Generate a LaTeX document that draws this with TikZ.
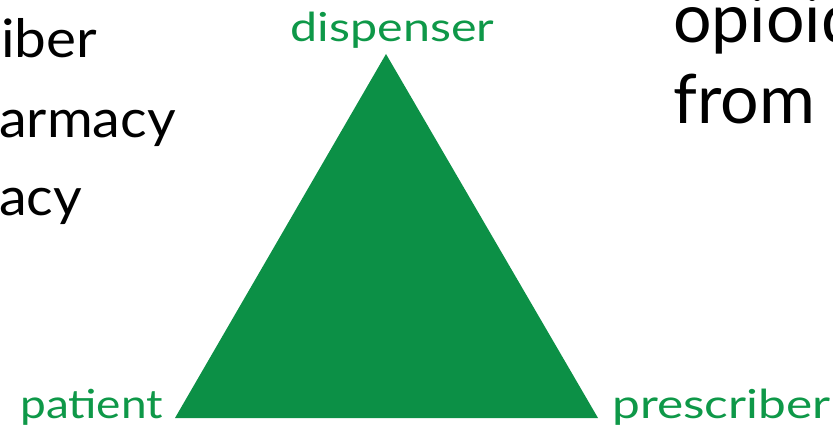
\documentclass[tikz,border=0pt]{standalone}
\usepackage{fontspec}
\usepackage{graphicx}
\setmainfont{Lato}
\definecolor{trigreen}{RGB}{12,144,70}
\definecolor{labgreen}{RGB}{14,152,72}
\begin{document}
\begin{tikzpicture}[x=1pt,y=-1pt,
  lab/.style={text=labgreen,inner sep=0pt,font=\fontsize{40}{46}\selectfont},
  blk/.style={text=black,inner sep=0pt,font=\fontsize{53}{60}\selectfont},
  bigblk/.style={text=black,inner sep=0pt,font=\fontsize{68}{76}\selectfont}]
\useasboundingbox (0,0) rectangle (833,436);
\clip (0,0) rectangle (833,436);
\coordinate (A) at (386,54);
\coordinate (B) at (175,418);
\coordinate (C) at (598,418);
\fill[trigreen] (A) -- (B) -- (C) -- cycle;
\node[lab,anchor=base] (disp) at (392.5,42) {\scalebox{1.21}[1]{dispenser}};
\node[lab,anchor=base west] (pat) at (20,418) {\scalebox{1.15}[1]{patient}};
\node[lab,anchor=base west] (pres) at (612,418) {\scalebox{1.24}[1]{prescriber}};
\node[blk,anchor=base west] (t1) at (1,58) {\scalebox{1.07}[1]{iber}};
\node[blk,anchor=base west] (t2) at (-1,137) {\scalebox{1.05}[1]{armacy}};
\node[blk,anchor=base west] (t3) at (-1,215) {\scalebox{1.05}[1]{acy}};
\node[bigblk,anchor=base west] (t4) at (673,43) {opioid};
\node[bigblk,anchor=base west] (t5) at (673,123) {from};
\end{tikzpicture}
\end{document}
